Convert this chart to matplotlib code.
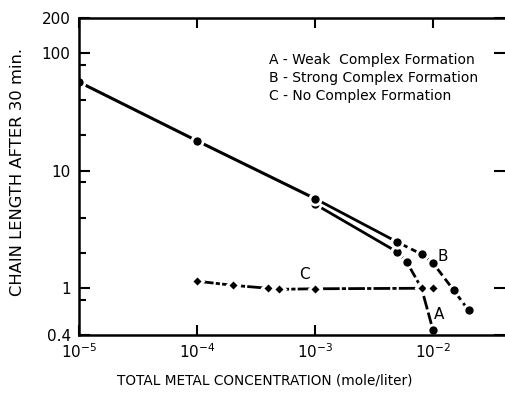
import matplotlib
matplotlib.use("Agg")
import matplotlib.pyplot as plt
from matplotlib.ticker import FixedLocator, NullLocator, FixedFormatter

# shared part of the curve (low metal concentration)
common_x = [1e-5, 1e-4, 1e-3]
common_y = [57, 18, 5.8]

# A - weak complex formation
a_x = [1e-3, 5e-3, 6e-3, 8e-3, 1e-2]
a_y = [5.2, 2.03, 1.67, 1.0, 0.44]

# B - strong complex formation
b_x = [1e-3, 5e-3, 8e-3, 1e-2, 1.5e-2, 2e-2]
b_y = [5.8, 2.47, 1.95, 1.64, 0.96, 0.65]

# C - no complex formation
c_x = [1e-4, 2e-4, 4e-4, 5e-4, 1e-3, 8e-3, 1e-2]
c_y = [1.15, 1.06, 1.0, 0.98, 0.99, 1.0, 1.0]

legend_lines = ["A - Weak  Complex Formation",
                "B - Strong Complex Formation",
                "C - No Complex Formation"]

yticks = [0.4, 1, 10, 100, 200]
ytick_labels = ["0.4", "1", "10", "100", "200"]
yminor = [0.8, 2, 4, 8, 20, 40, 80]
xticks = [1e-5, 1e-4, 1e-3, 1e-2]
xtick_labels = [r"$10^{-5}$", r"$10^{-4}$", r"$10^{-3}$", r"$10^{-2}$"]

fig = plt.figure(figsize=(5.05, 3.99), dpi=100)
ax = fig.add_axes([79 / 505, 1 - 335 / 399, 1 - 79 / 505, (335 - 18) / 399])
ax.set_xscale("log")
ax.set_yscale("log")
ax.set_xlim(1e-5, 10 ** (-5 + 426 / 118))
ax.set_ylim(0.4, 200)

mk = dict(marker="o", markersize=8, markerfacecolor="black",
          markeredgecolor="white", markeredgewidth=2.0, color="black")

ax.plot(common_x, common_y, lw=2.2, **mk)
ax.plot(a_x[:2], a_y[:2], lw=2.0, **mk)
ax.plot(a_x[1:], a_y[1:], lw=2.0, dashes=(5, 1.2), **mk)
ax.plot(b_x[:2], b_y[:2], lw=2.0, **mk)
ax.plot(b_x[1:], b_y[1:], lw=2.0, dashes=(4, 1.5), **mk)
mk_d = dict(mk, marker="D", markersize=6.5)
ax.plot(c_x, c_y, lw=2.0, dashes=(6, 0.8, 1.5, 0.8), **mk_d)

ax.text(1.12e-2, 0.6, "A", fontsize=11, ha="center", va="center")
ax.text(1.22e-2, 1.85, "B", fontsize=11, ha="center", va="center")
ax.text(8.2e-4, 1.32, "C", fontsize=11, ha="center", va="center")

for i, line in enumerate(legend_lines):
    ax.text(269 / 505, 1 - (60 + 18 * i) / 399, line, transform=fig.transFigure,
            fontsize=10, ha="left", va="center")

for side in ["left", "top", "bottom"]:
    ax.spines[side].set_linewidth(1.8)
ax.spines["right"].set_visible(False)

ax.yaxis.set_major_locator(FixedLocator(yticks))
ax.yaxis.set_major_formatter(FixedFormatter(ytick_labels))
ax.yaxis.set_minor_locator(FixedLocator(yminor))
ax.xaxis.set_major_locator(FixedLocator(xticks))
ax.xaxis.set_major_formatter(FixedFormatter(xtick_labels))
ax.xaxis.set_minor_locator(NullLocator())

ax.tick_params(axis="y", which="major", direction="in", length=8, width=1.5,
               left=True, right=True, labelsize=11, pad=6)
ax.tick_params(axis="y", which="minor", direction="in", length=5, width=1.5,
               left=True, right=False, labelleft=False)
ax.tick_params(axis="x", which="major", direction="in", length=7, width=1.5,
               top=True, bottom=True, labelsize=11, pad=5)

fig.text(265 / 505, 1 - 381 / 399, "TOTAL METAL CONCENTRATION (mole/liter)",
         fontsize=9.8, ha="center", va="center")
fig.text(18 / 505, 1 - 172 / 399, "CHAIN LENGTH AFTER 30 min.",
         fontsize=11.8, rotation=90, ha="center", va="center")

fig.savefig("out.png", dpi=100)
